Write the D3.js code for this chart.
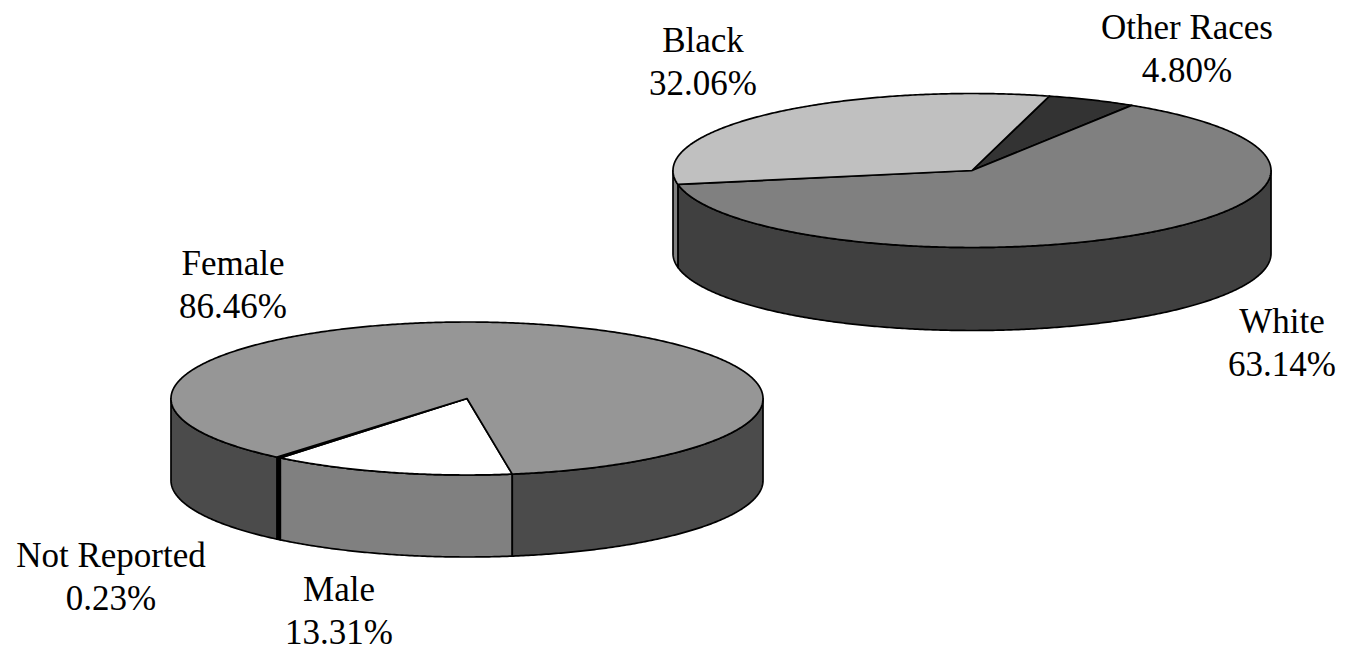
<!DOCTYPE html>
<html>
<head>
<meta charset="utf-8">
<script src="https://d3js.org/d3.v7.min.js"></script>
<style>
  html, body { margin: 0; padding: 0; background: #fff; overflow: hidden; }
  svg { display: block; }
  text { font-family: "Liberation Serif", serif; font-size: 35px; fill: #000; }
</style>
</head>
<body>
<svg id="chart" width="1348" height="646"></svg>
<script>
// data
const raceLabels = ["Other Races", "White", "Black"];
const raceValues = [4.80, 63.14, 32.06];
const genderLabels = ["Male", "Not Reported", "Female"];
const genderValues = [13.31, 0.23, 86.46];

// look of each pie
const racePie = {
  cx: 972, cy: 170.5, rx: 299, ry: 77, depth: 83, start: 15,
  top: ["#333333", "#808080", "#c0c0c0"],
  side: ["#1a1a1a", "#404040", "#808080"],
  labelPos: [[1187, 38.5], [1282, 333], [703, 52]]
};
const genderPie = {
  cx: 467, cy: 398.5, rx: 296, ry: 76.5, depth: 82, start: 171.2,
  top: ["#ffffff", "#000000", "#969696"],
  side: ["#808080", "#000000", "#4b4b4b"],
  labelPos: [[339, 601], [111, 567], [233, 275]]
};

const svg = d3.select("#chart");
const STEP = Math.PI / 180 / 2;
const FRONT_START = Math.PI / 2, FRONT_END = Math.PI * 3 / 2;

function drawPie(labels, values, opt) {
  const g = svg.append("g");
  const x = d3.scaleLinear().domain([-1, 1]).range([opt.cx - opt.rx, opt.cx + opt.rx]);
  const y = d3.scaleLinear().domain([-1, 1]).range([opt.cy - opt.ry, opt.cy + opt.ry]);
  const a0 = opt.start * Math.PI / 180;
  const slices = d3.pie().sort(null).startAngle(a0).endAngle(a0 + 2 * Math.PI)(values);

  // angle 0 is north, clockwise, same as d3.pie
  const px = a => x(Math.sin(a));
  const py = a => y(-Math.cos(a));
  const rim = (a, b) => d3.range(a, b, STEP).concat([b]);
  const line = d3.line();

  // walls: only the front half shows
  slices.forEach((s, i) => {
    [0, 2 * Math.PI].forEach(shift => {
      const a = Math.max(s.startAngle - shift, FRONT_START);
      const b = Math.min(s.endAngle - shift, FRONT_END);
      if (b <= a) return;
      const upper = rim(a, b).map(t => [px(t), py(t)]);
      const lower = rim(a, b).reverse().map(t => [px(t), py(t) + opt.depth]);
      g.append("path")
        .attr("d", line(upper.concat(lower)) + "Z")
        .attr("fill", opt.side[i])
        .attr("stroke", "#000")
        .attr("stroke-width", 1.7)
        .attr("stroke-linejoin", "round");
    });
  });

  // top face
  slices.forEach((s, i) => {
    const pts = [[x(0), y(0)]].concat(rim(s.startAngle, s.endAngle).map(t => [px(t), py(t)]));
    g.append("path")
      .attr("d", line(pts) + "Z")
      .attr("fill", opt.top[i])
      .attr("stroke", "#000")
      .attr("stroke-width", 1.7)
      .attr("stroke-linejoin", "round");
  });

  // labels
  labels.forEach((name, i) => {
    const t = g.append("text")
      .attr("text-anchor", "middle")
      .attr("x", opt.labelPos[i][0])
      .attr("y", opt.labelPos[i][1]);
    t.append("tspan").text(name);
    t.append("tspan")
      .attr("x", opt.labelPos[i][0])
      .attr("dy", 43)
      .text(values[i].toFixed(2) + "%");
  });
}

drawPie(raceLabels, raceValues, racePie);
drawPie(genderLabels, genderValues, genderPie);
</script>
</body>
</html>
